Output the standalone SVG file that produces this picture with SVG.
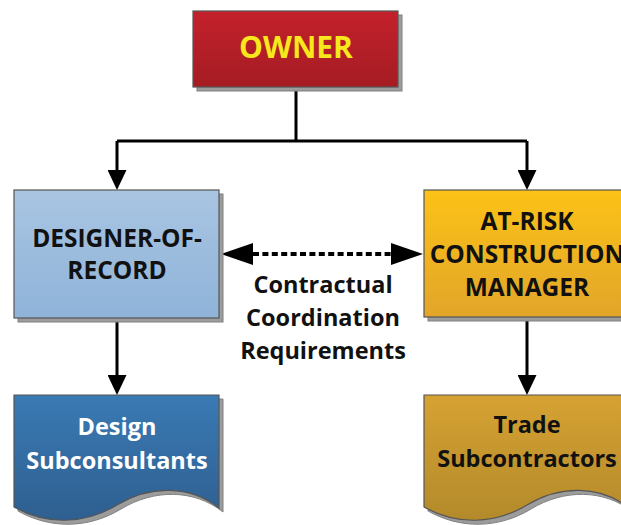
<svg xmlns="http://www.w3.org/2000/svg" width="621" height="525" viewBox="0 0 621 525">
<style>
.t{font-family:"Open Sans","Noto Sans","DejaVu Sans",sans-serif;font-weight:700;text-anchor:middle}
.dk{fill:#111}
.sh{fill:#9c9c9c;stroke:#808080;stroke-width:1}
.bd{stroke:#555;stroke-width:1.2}
.ln{fill:none;stroke:#000;stroke-width:3}
.dash{fill:none;stroke:#000;stroke-width:4;stroke-dasharray:6 3.4}
</style>
<defs>
<linearGradient id="gRed" x1="0" y1="0" x2="0" y2="1"><stop offset="0" stop-color="#c3212b"/><stop offset="1" stop-color="#a51c23"/></linearGradient>
<linearGradient id="gBlue" x1="0" y1="0" x2="0" y2="1"><stop offset="0" stop-color="#a9c5e2"/><stop offset="1" stop-color="#8fb3d9"/></linearGradient>
<linearGradient id="gGold" x1="0" y1="0" x2="0" y2="1"><stop offset="0" stop-color="#fcc216"/><stop offset="1" stop-color="#e2a52a"/></linearGradient>
<linearGradient id="gDocB" x1="0" y1="0" x2="0" y2="1"><stop offset="0" stop-color="#3a7ab4"/><stop offset="1" stop-color="#2e5f90"/></linearGradient>
<linearGradient id="gDocG" x1="0" y1="0" x2="0" y2="1"><stop offset="0" stop-color="#d6a232"/><stop offset="1" stop-color="#b38a2b"/></linearGradient>
<marker id="arr" viewBox="0 0 20 19" refX="0" refY="9.5" markerWidth="20" markerHeight="19" markerUnits="userSpaceOnUse" orient="auto"><path d="M0,0 L20,9.5 L0,19 Z" fill="#000"/></marker>
<marker id="arrB" viewBox="0 0 32 22" refX="0" refY="11" markerWidth="32" markerHeight="22" markerUnits="userSpaceOnUse" orient="auto-start-reverse"><path d="M0,0 L32,11 L0,22 Z" fill="#000"/></marker>
<path id="doc" d="M0,0 H205 V113 C176,90 136,90 103,110 C70,130 32,130 0,112 Z"/>
</defs>

<g id="connectors">
<path class="ln" d="M296,87 V141 M117,141 H527"/>
<path class="ln" d="M117,141 V170" marker-end="url(#arr)"/>
<path class="ln" d="M527,141 V170" marker-end="url(#arr)"/>
<path class="ln" d="M117,318 V375" marker-end="url(#arr)"/>
<path class="ln" d="M527,317 V375" marker-end="url(#arr)"/>
<path class="dash" d="M253,254 H391" marker-start="url(#arrB)" marker-end="url(#arrB)"/>
</g>

<g id="owner">
<rect class="sh" x="197" y="15" width="205" height="76"/>
<rect class="bd" x="193" y="11" width="205" height="76" fill="url(#gRed)"/>
<text class="t" x="296" y="58" font-size="30" fill="#f6e81c">OWNER</text>
</g>

<g id="designer">
<rect class="sh" x="18" y="194" width="205" height="128"/>
<rect class="bd" x="14" y="190" width="205" height="128" fill="url(#gBlue)"/>
<text class="t dk" font-size="24.5"><tspan x="117" y="247">DESIGNER-OF-</tspan><tspan x="117" y="279">RECORD</tspan></text>
</g>

<g id="cm">
<rect class="sh" x="428" y="194" width="205" height="127"/>
<rect class="bd" x="424" y="190" width="205" height="127" fill="url(#gGold)"/>
<text class="t dk" font-size="24.5"><tspan x="527" y="230">AT-RISK</tspan><tspan x="527" y="263">CONSTRUCTION</tspan><tspan x="527" y="296">MANAGER</tspan></text>
</g>

<g id="coordination">
<text class="t dk" font-size="23.5"><tspan x="323" y="293">Contractual</tspan><tspan x="323" y="326">Coordination</tspan><tspan x="323" y="359">Requirements</tspan></text>
</g>

<g id="design-subconsultants">
<use href="#doc" x="18" y="399" class="sh"/>
<use href="#doc" x="14" y="395" class="bd" fill="url(#gDocB)"/>
<text class="t" font-size="23.5" fill="#fff"><tspan x="117" y="435">Design</tspan><tspan x="117" y="469">Subconsultants</tspan></text>
</g>

<g id="trade-subcontractors">
<use href="#doc" x="428" y="399" class="sh"/>
<use href="#doc" x="424" y="395" class="bd" fill="url(#gDocG)"/>
<text class="t dk" font-size="23.5"><tspan x="527" y="433">Trade</tspan><tspan x="527" y="467">Subcontractors</tspan></text>
</g>
</svg>
